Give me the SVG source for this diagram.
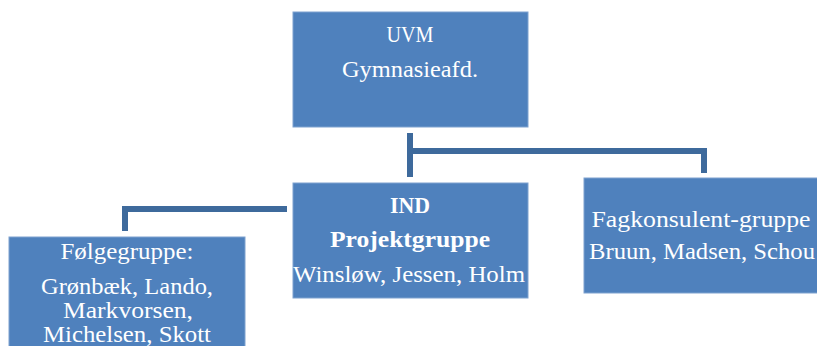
<svg xmlns="http://www.w3.org/2000/svg" width="817" height="346" viewBox="0 0 817 346">
<style>
.box{fill:#4F81BD;stroke:#7FA2CF;stroke-width:1}
.t{font-family:"Liberation Serif","DejaVu Serif",serif;font-size:23.5px;fill:#FFFFFF;text-anchor:middle}
.b{font-weight:bold}
.c{fill:none;stroke:#3E6A9C;stroke-width:6}
</style>
<rect width="817" height="346" fill="#FFFFFF"/>
<g id="connectors">
<path class="c" d="M410,133 V177"/>
<path class="c" d="M410,151 H704 V173"/>
<path class="c" d="M287,209 H125 V231"/>
</g>
<g id="uvm">
<rect class="box" x="293" y="12" width="235" height="115"/>
<text class="t" x="410" y="42" textLength="47" lengthAdjust="spacingAndGlyphs">UVM</text>
<text class="t" x="410" y="77" textLength="136" lengthAdjust="spacingAndGlyphs">Gymnasieafd.</text>
</g>
<g id="ind">
<rect class="box" x="293" y="183" width="235" height="115"/>
<text class="t b" x="410" y="213" textLength="40" lengthAdjust="spacingAndGlyphs">IND</text>
<text class="t b" x="410" y="247" textLength="160" lengthAdjust="spacingAndGlyphs">Projektgruppe</text>
<text class="t" x="409" y="282" textLength="232" lengthAdjust="spacingAndGlyphs">Winsløw, Jessen, Holm</text>
</g>
<g id="fagkonsulent">
<rect class="box" x="584" y="178" width="240" height="115"/>
<text class="t" x="701" y="227" textLength="219" lengthAdjust="spacingAndGlyphs">Fagkonsulent-gruppe</text>
<text class="t" x="702" y="259" textLength="226" lengthAdjust="spacingAndGlyphs">Bruun, Madsen, Schou</text>
</g>
<g id="folgegruppe">
<rect class="box" x="9" y="237" width="236" height="120"/>
<text class="t" x="127" y="259" textLength="133" lengthAdjust="spacingAndGlyphs">Følgegruppe:</text>
<text class="t" x="127" y="294" textLength="172" lengthAdjust="spacingAndGlyphs">Grønbæk, Lando,</text>
<text class="t" x="128" y="318" textLength="130" lengthAdjust="spacingAndGlyphs">Markvorsen,</text>
<text class="t" x="127" y="342" textLength="168" lengthAdjust="spacingAndGlyphs">Michelsen, Skott</text>
</g>
</svg>
